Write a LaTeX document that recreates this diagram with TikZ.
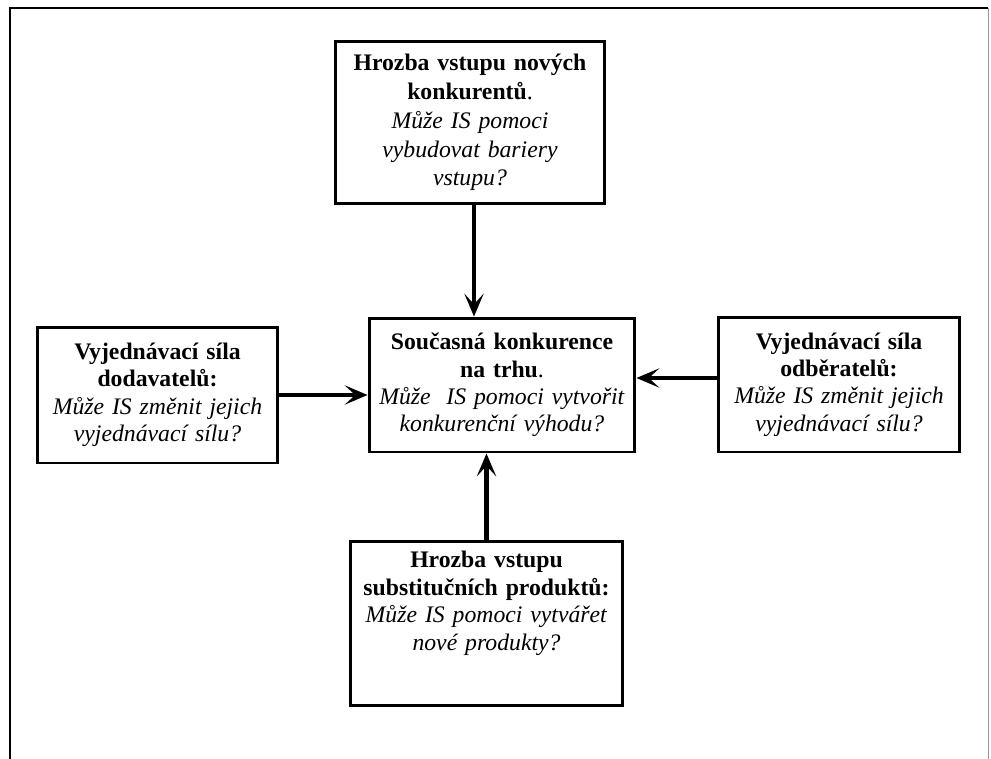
\documentclass[tikz,border=0pt]{standalone}
\usepackage{fontspec}
\setmainfont{Liberation Serif}
\usetikzlibrary{arrows.meta,positioning}
\tikzset{
	silabox/.style={
		draw,line width=1.7pt,align=center,inner xsep=0pt,inner ysep=0.2cm,
		font=\fontsize{13.5}{15.6}\selectfont},
	sipka/.style={
		line width=2.6pt,-{Stealth[length=13pt,width=11pt,inset=6pt]}}
}
\def\sila#1{\textbf{#1}}
\def\dotaz#1{\textit{#1}}

\begin{document}
\begin{tikzpicture}[x=0.02cm,y=-0.02cm]
			\useasboundingbox (0,0) rectangle (991,758);
			% ramecek
			\draw[line width=1.3pt] (10,780) -- (10,8) -- (988,8);
			\draw[line width=0.4pt,black!40] (988,8) -- (988,780);
			\node[silabox,text width=5.4cm,minimum height=3.26cm,font=\fontsize{13.5}{16.4}\selectfont] (hrozba) at (470,122.5)
				{\sila{Hrozba vstupu nových}\\ \sila{konkurentů}.\\ \dotaz{Může IS pomoci}\\ \dotaz{vybudovat bariery}\\ \dotaz{vstupu?}};
			\node[silabox,text width=5.32cm,minimum height=2.68cm,inner ysep=0pt] (soucasna) at (502,385)
				{\sila{Současná konkurence}\\ \sila{na trhu}.\\ \dotaz{Může \ IS pomoci vytvořit}\\ \dotaz{konkurenční výhodu?}};
			\node[silabox,text width=4.82cm,minimum height=2.72cm] (dodavatele) at (157.5,395)
				{\sila{Vyjednávací síla}\\ \sila{dodavatelů:}\\ \dotaz{Může IS změnit jejich}\\ \dotaz{vyjednávací sílu?}};
			\node[silabox,text width=4.84cm,minimum height=2.7cm] (odberatele) at (839,384.5)
				{\sila{Vyjednávací síla}\\ \sila{odběratelů:}\\ \dotaz{Může IS změnit jejich}\\ \dotaz{vyjednávací sílu?}};
			\node[silabox,text width=5.46cm,text depth=2.55cm,anchor=north] (substituty) at (486.5,540)
				{\sila{Hrozba vstupu}\\ \sila{substitučních produktů:}\\ \dotaz{Může IS pomoci vytvářet}\\ \dotaz{nové produkty?}};
			% sipky
			\draw[sipka] ([xshift=0.08cm]hrozba.south) -- ([xshift=0.08cm]hrozba.south |- soucasna.north);
			\draw[sipka] (dodavatele.east) -- (dodavatele.east -| soucasna.west);
			\draw[sipka] ([yshift=0.13cm]odberatele.west) -- ([yshift=0.13cm]odberatele.west -| soucasna.east);
			\draw[sipka] (substituty.north) -- (substituty.north |- soucasna.south);
\end{tikzpicture}
\end{document}
